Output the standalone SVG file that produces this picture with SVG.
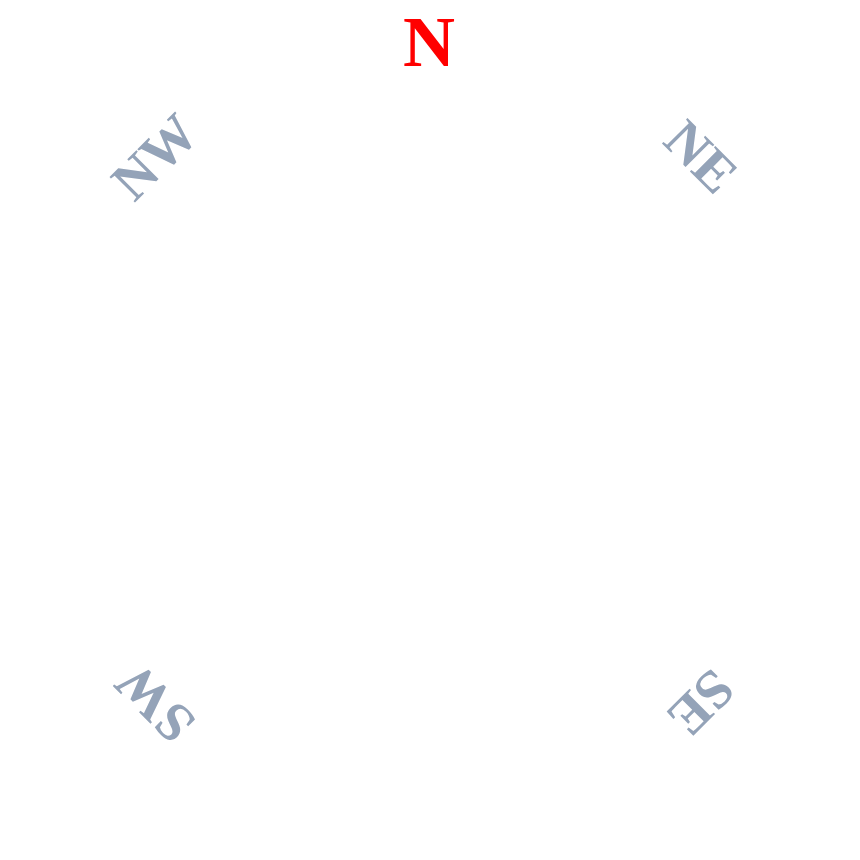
<svg xmlns="http://www.w3.org/2000/svg" width="860" height="860" viewBox="0 0 860 860">
<style>
.lbl{font-family:"Liberation Serif","Times New Roman",serif;font-weight:bold;text-anchor:middle}
.n{fill:#ff0000;font-size:72px}
.d{fill:#94a3b8;font-size:55px}
</style>
<rect width="860" height="860" fill="#ffffff"/>
<g id="N"><text class="lbl n" x="429" y="66">N</text></g>
<g id="NE" transform="rotate(45 428 430)"><text class="lbl d" x="428" y="62">NE</text></g>
<g id="SE" transform="rotate(135 428 430)"><text class="lbl d" x="428" y="62">SE</text></g>
<g id="SW" transform="rotate(225 428 430)"><text class="lbl d" x="428" y="62">SW</text></g>
<g id="NW" transform="rotate(315 428 430)"><text class="lbl d" x="428" y="62">NW</text></g>
</svg>
